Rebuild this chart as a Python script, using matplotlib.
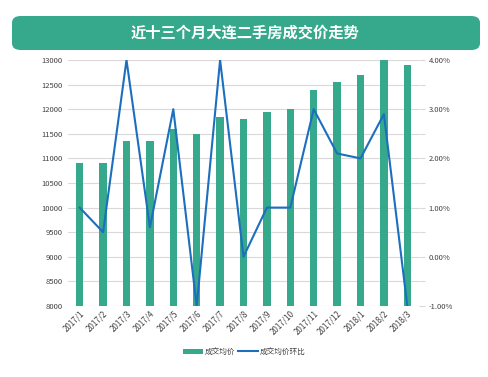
import numpy as np
import matplotlib.pyplot as plt
from matplotlib.patches import FancyBboxPatch
from matplotlib.ticker import MultipleLocator, FuncFormatter

plt.rcParams['font.family'] = ['Noto Sans CJK SC', 'DejaVu Sans']

months = ['2017/1', '2017/2', '2017/3', '2017/4', '2017/5', '2017/6', '2017/7', '2017/8',
          '2017/9', '2017/10', '2017/11', '2017/12', '2018/1', '2018/2', '2018/3']
avg_price = [10900, 10900, 11350, 11350, 11600, 11500, 11850, 11800,
             11950, 12000, 12400, 12550, 12700, 12990, 12900]
mom_change = [1.0, 0.5, 4.0, 0.6, 3.0, -1.0, 4.0, 0.0,
              1.0, 1.0, 3.0, 2.1, 2.0, 2.9, -1.0]

green = '#36a88b'
blue = '#1b6fbe'

fig = plt.figure(figsize=(4.89, 3.77), dpi=100)

# title banner
fig.patches.append(FancyBboxPatch((12 / 489, 1 - 50 / 377), 468 / 489, 34 / 377,
                                  boxstyle='round,pad=0,rounding_size=0.018',
                                  transform=fig.transFigure, facecolor=green,
                                  edgecolor='none'))
fig.text(0.5, 1 - 33 / 377, '近十三个月大连二手房成交价走势', color='white',
         fontsize=11, fontweight='bold', ha='center', va='center')

ax = fig.add_axes([68 / 489, 1 - 306 / 377, 351 / 489, 246 / 377])
x = np.arange(len(months))
ax.bar(x, avg_price, width=0.32, color=green, label='成交均价', zorder=2)
ax.set_ylim(8000, 13000)
ax.set_xlim(-0.5, len(months) - 0.5)
ax.yaxis.set_major_locator(MultipleLocator(500))
ax.grid(axis='y', color='#d9d9d9', linewidth=0.8, zorder=0)
for s in ax.spines.values():
    s.set_visible(False)
ax.tick_params(axis='y', length=0, labelsize=5.5, labelcolor='#404040', pad=4)
ax.tick_params(axis='x', length=0, labelsize=5.8, labelcolor='#404040', pad=2)
ax.set_xticks(x)
ax.set_xticklabels(months, rotation=45, ha='right', rotation_mode='anchor')

ax2 = ax.twinx()
ax2.plot(x, mom_change, color=blue, linewidth=1.5, label='成交均价环比', zorder=3)
ax2.set_ylim(-1, 4)
ax2.yaxis.set_major_locator(MultipleLocator(1))
ax2.yaxis.set_minor_locator(MultipleLocator(0.5))
ax2.yaxis.set_major_formatter(FuncFormatter(lambda v, p: '%.2f%%' % v))
for s in ax2.spines.values():
    s.set_visible(False)
ax2.tick_params(axis='y', which='both', length=4, width=0.8, color='#d9d9d9',
                labelsize=5.5, labelcolor='#404040', pad=3)

h1, l1 = ax.get_legend_handles_labels()
h2, l2 = ax2.get_legend_handles_labels()
fig.legend(h1 + h2, l1 + l2, loc='center', bbox_to_anchor=(0.5, 1 - 352 / 377),
           ncol=2, frameon=False, fontsize=5.5, handlelength=2.5, columnspacing=0.4,
           handletextpad=0.3, labelcolor='#404040')

fig.savefig('out.png', dpi=100)
